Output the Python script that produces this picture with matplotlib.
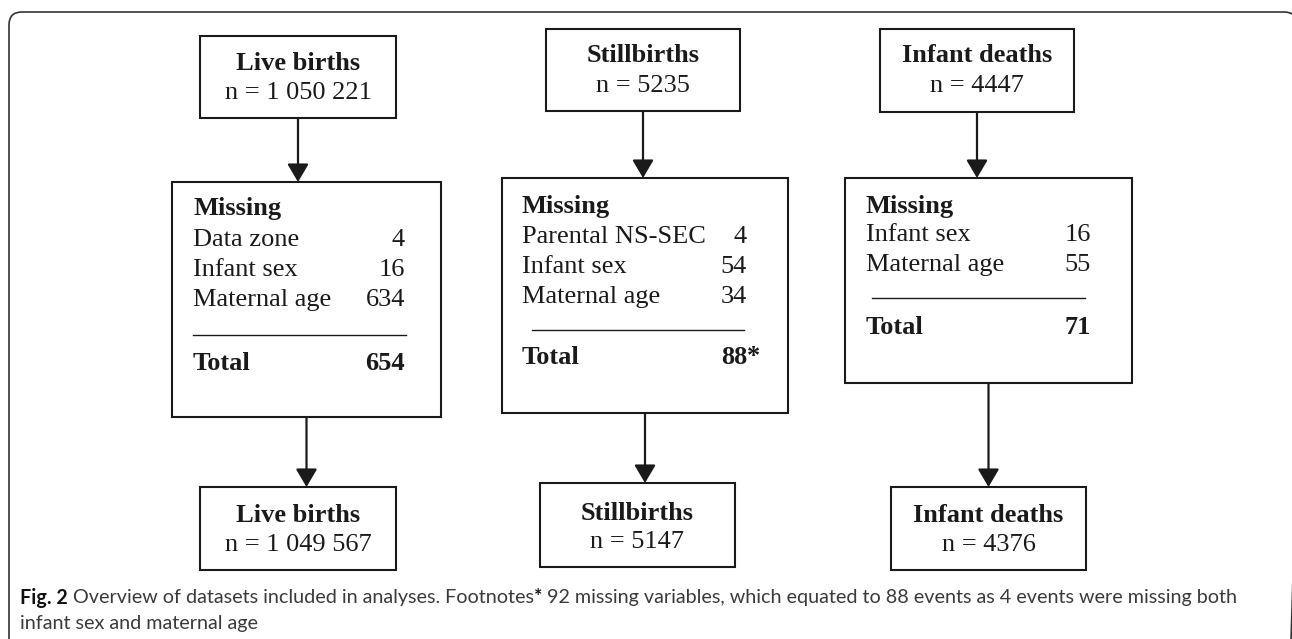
import matplotlib
matplotlib.use("Agg")
import matplotlib.pyplot as plt
from matplotlib.patches import Rectangle, FancyBboxPatch

# Values
titles = ["Live births", "Stillbirths", "Infant deaths"]
n_start = [1050221, 5235, 4447]
n_end = [1049567, 5147, 4376]
missing_labels = [["Data zone", "Infant sex", "Maternal age"],
                  ["Parental NS-SEC", "Infant sex", "Maternal age"],
                  ["Infant sex", "Maternal age"]]
missing_counts = [[4, 16, 634], [4, 54, 34], [16, 55]]
totals = [654, 88, 71]
total_note = ["", "*", ""]
caption_parts = [("Fig. 2", "bold"),
                 (" Overview of datasets included in analyses. Footnotes", "normal"),
                 ("*", "bold"),
                 (" 92 missing variables, which equated to 88 events as 4 events were missing both", "normal")]
caption_line2 = "infant sex and maternal age"

# Layout in pixel units (x0, x1, y0, y1)
top_box = [(200, 396, 36, 118), (546, 740, 29, 111), (880, 1074, 29, 112)]
mid_box = [(172, 441, 182, 417), (502, 788, 178, 413), (845, 1132, 178, 383)]
bot_box = [(200, 396, 487, 570), (540, 735, 483, 567), (891, 1086, 487, 570)]
top_text_y = [(63, 93), (55, 86), (55, 86)]
bot_text_y = [(515, 545), (513, 542), (515, 545)]
miss_x = [(193, 405), (522, 747), (866, 1091)]
miss_head_y = [208, 206, 206]
row_y0 = [240, 237, 235]
row_step = 30
rule = [(193, 406, 335), (532, 744, 330), (872, 1085, 298)]
total_y = [364, 358, 328]

W, H = 1292, 639
fig = plt.figure(figsize=(W / 100, H / 100), dpi=100)
ax = fig.add_axes([0, 0, 1, 1])
ax.set_xlim(0, W)
ax.set_ylim(H, 0)
ax.axis("off")

serif = "Liberation Serif"
fs = 19
ink = "#1a1a1a"
box_lw = 1.5


def fmt_n(v):
    if v >= 10000:
        return f"{v:,}".replace(",", " ")
    return str(v)


def draw_box(b):
    x0, x1, y0, y1 = b
    ax.add_patch(Rectangle((x0, y0), x1 - x0, y1 - y0, fill=False,
                           ec=ink, lw=box_lw))


def draw_arrow(x, y0, y1):
    ax.annotate("", xy=(x, y1), xytext=(x, y0),
                arrowprops=dict(arrowstyle="-|>,head_length=1.1,head_width=0.65",
                                color=ink, lw=1.6, shrinkA=0, shrinkB=0))


# outer frame, rounded corners; right and bottom edges run past the picture
ax.add_patch(FancyBboxPatch((9, 12), 1288, 700,
                            boxstyle="round,pad=0,rounding_size=13",
                            fill=False, ec="#333333", lw=1.2))

for i in range(3):
    draw_box(top_box[i])
    draw_box(mid_box[i])
    draw_box(bot_box[i])

    cx = (top_box[i][0] + top_box[i][1]) / 2
    ax.text(cx, top_text_y[i][0], titles[i], ha="center", va="center",
            fontsize=fs, fontweight="bold", family=serif, color=ink)
    ax.text(cx, top_text_y[i][1], "n = " + fmt_n(n_start[i]), ha="center",
            va="center", fontsize=fs, family=serif, color=ink)
    draw_arrow(cx, top_box[i][3], mid_box[i][2])

    lx, rx = miss_x[i]
    ax.text(lx, miss_head_y[i], "Missing", ha="left", va="center",
            fontsize=fs, fontweight="bold", family=serif, color=ink)
    for j, (lab, cnt) in enumerate(zip(missing_labels[i], missing_counts[i])):
        y = row_y0[i] + j * row_step
        ax.text(lx, y, lab, ha="left", va="center", fontsize=fs,
                family=serif, color=ink)
        ax.text(rx, y, str(cnt), ha="right", va="center", fontsize=fs,
                family=serif, color=ink)
    ax.plot([rule[i][0], rule[i][1]], [rule[i][2], rule[i][2]],
            color=ink, lw=1.0)
    ax.text(lx, total_y[i], "Total", ha="left", va="center", fontsize=fs,
            fontweight="bold", family=serif, color=ink)
    ax.text(rx, total_y[i], str(totals[i]), ha="right", va="center",
            fontsize=fs, fontweight="bold", family=serif, color=ink)
    if total_note[i]:
        ax.text(rx, total_y[i] - 2, total_note[i], ha="left", va="center",
                fontsize=fs, fontweight="bold", family=serif, color=ink)

    mx = (mid_box[i][0] + mid_box[i][1]) / 2
    draw_arrow(mx, mid_box[i][3], bot_box[i][2])

    bx = (bot_box[i][0] + bot_box[i][1]) / 2
    ax.text(bx, bot_text_y[i][0], titles[i], ha="center", va="center",
            fontsize=fs, fontweight="bold", family=serif, color=ink)
    ax.text(bx, bot_text_y[i][1], "n = " + fmt_n(n_end[i]), ha="center",
            va="center", fontsize=fs, family=serif, color=ink)

# caption, built from pieces placed one after another
cap_font = "Lato"
cap_fs = 14.2
renderer = fig.canvas.get_renderer()
x = 20
for txt, wt in caption_parts:
    col = "#111111" if wt == "bold" else "#3a3a3a"
    t = ax.text(x, 598, txt, ha="left", va="center", fontsize=cap_fs,
                fontweight=wt, family=cap_font, color=col)
    bb = t.get_window_extent(renderer=renderer)
    x += bb.width
ax.text(20, 623, caption_line2, ha="left", va="center", fontsize=cap_fs,
        family=cap_font, color="#3a3a3a")

fig.savefig("out.png", dpi=100)
